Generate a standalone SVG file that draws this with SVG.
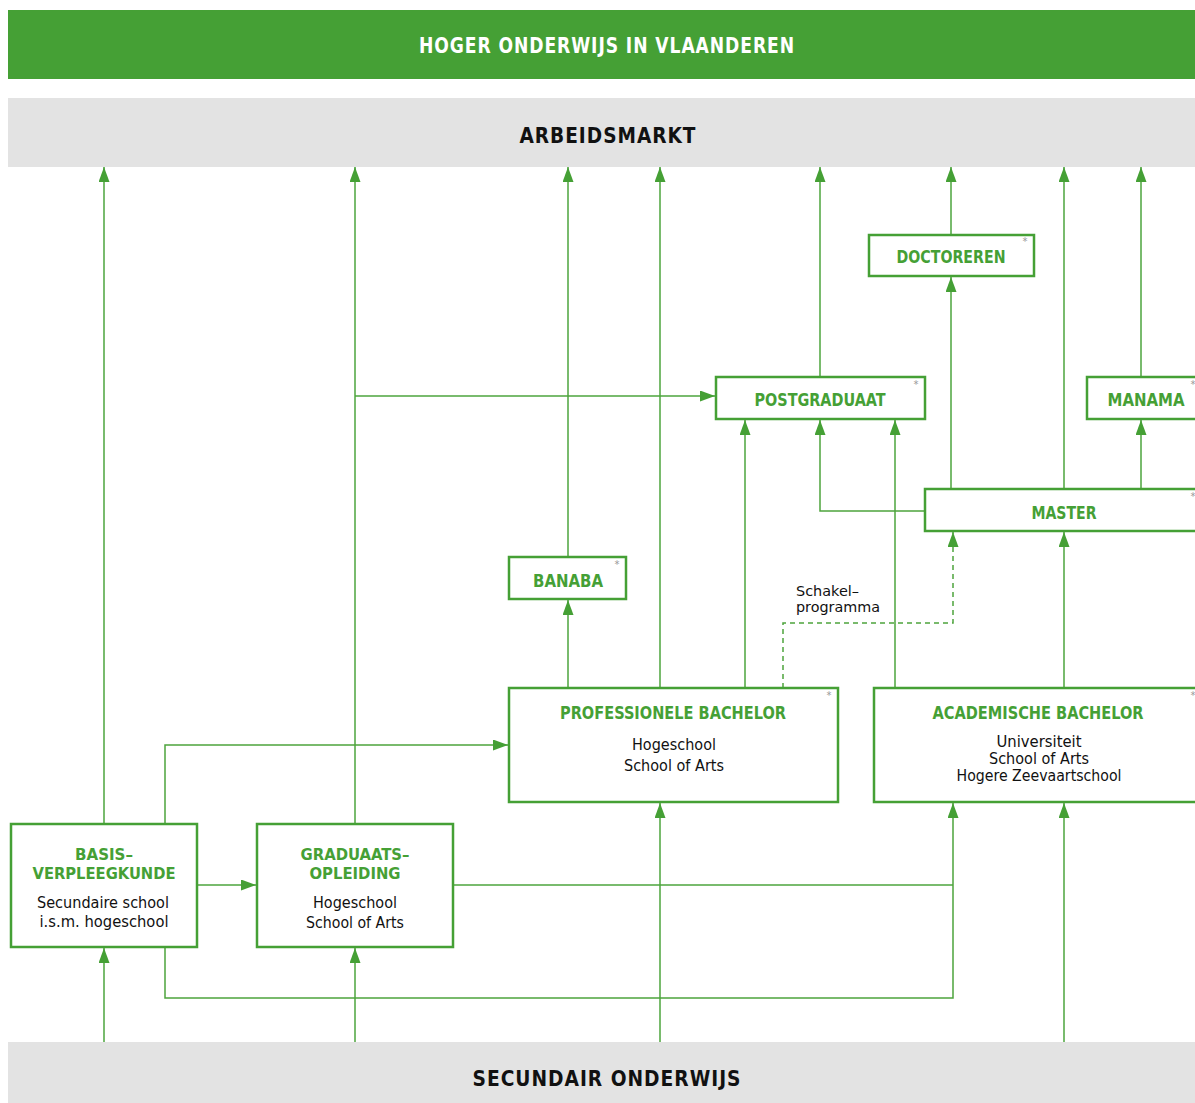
<svg xmlns="http://www.w3.org/2000/svg" width="1195" height="1103" viewBox="0 0 1195 1103">
<style>
.band{fill:#e3e3e3}
.bt{font-family:"DejaVu Sans Condensed","Liberation Sans",sans-serif;font-weight:bold;font-size:21px;fill:#111;text-anchor:middle;letter-spacing:1px}
.box{fill:#fff;stroke:#45a035;stroke-width:2.5}
.t{font-family:"DejaVu Sans Condensed","Liberation Sans",sans-serif;font-weight:bold;font-size:18px;fill:#45a035;text-anchor:middle}
.t2{font-size:16px}
.s{font-family:"DejaVu Sans Condensed","Liberation Sans",sans-serif;font-size:15px;fill:#111;text-anchor:middle}
.sk{font-family:"DejaVu Sans Condensed","Liberation Sans",sans-serif;font-size:14px;fill:#111}
.ast{font-family:"DejaVu Sans","Liberation Sans",sans-serif;font-size:10px;fill:#999;text-anchor:middle}
.c path{fill:none;stroke:#4da43d;stroke-width:1.5}
.c path.a{marker-end:url(#ah)}
.c path.d{stroke-dasharray:5 4}
</style>
<defs>
<marker id="ah" markerUnits="userSpaceOnUse" markerWidth="15" markerHeight="11" viewBox="0 0 15 11" refX="15" refY="5.5" orient="auto">
<path d="M0,0 L15,5.5 L0,11 z" fill="#45a035"/>
</marker>
</defs>
<rect width="1195" height="1103" fill="#fff"/>
<g id="header">
<rect x="8" y="10" width="1187" height="69" fill="#45a035"/>
<text x="607" y="53" class="bt" style="fill:#fff" textLength="376" lengthAdjust="spacingAndGlyphs">HOGER ONDERWIJS IN VLAANDEREN</text>
</g>
<g id="arbeidsmarkt">
<rect x="8" y="98" width="1187" height="69" class="band"/>
<text x="608" y="143" class="bt" textLength="177" lengthAdjust="spacingAndGlyphs">ARBEIDSMARKT</text>
</g>
<g id="secundair">
<rect x="8" y="1042" width="1187" height="61" class="band"/>
<text x="607" y="1086" class="bt" textLength="269" lengthAdjust="spacingAndGlyphs">SECUNDAIR ONDERWIJS</text>
</g>
<g class="c" id="connectors">
<path class="a" d="M104,824 V167"/>
<path class="a" d="M355,824 V167"/>
<path class="a" d="M568,557 V167"/>
<path class="a" d="M660,688 V167"/>
<path class="a" d="M820,377 V167"/>
<path class="a" d="M951,234 V167"/>
<path class="a" d="M1064,489 V167"/>
<path class="a" d="M1141,377 V167"/>
<path class="a" d="M355,396 H715"/>
<path class="a" d="M951,489 V277"/>
<path class="a" d="M745,688 V420"/>
<path class="a" d="M895,688 V420"/>
<path class="a" d="M925,511 H820 V420"/>
<path class="a" d="M1141,489 V420"/>
<path class="a" d="M568,688 V600"/>
<path class="a d" d="M783,688 V623 H953 V532"/>
<path class="a" d="M1064,688 V532"/>
<path class="a" d="M165,824 V745 H508"/>
<path class="a" d="M197,885 H256"/>
<path d="M453,885 H953"/>
<path class="a" d="M165,947 V998 H953 V803"/>
<path class="a" d="M104,1042 V948"/>
<path class="a" d="M355,1042 V948"/>
<path class="a" d="M660,1042 V803"/>
<path class="a" d="M1064,1042 V803"/>
</g>
<g id="schakelprogramma-label">
<text class="sk"><tspan x="796" y="596" textLength="63" lengthAdjust="spacingAndGlyphs">Schakel–</tspan><tspan x="796" y="612" textLength="84" lengthAdjust="spacingAndGlyphs">programma</tspan></text>
</g>
<g id="doctoreren">
<rect x="869" y="235" width="165" height="41" class="box"/>
<text x="951" y="263" class="t" textLength="109" lengthAdjust="spacingAndGlyphs">DOCTOREREN</text>
<text x="1025" y="245" class="ast">*</text>
</g>
<g id="postgraduaat">
<rect x="716" y="377" width="209" height="42" class="box"/>
<text x="820" y="406" class="t" textLength="131" lengthAdjust="spacingAndGlyphs">POSTGRADUAAT</text>
<text x="916" y="388" class="ast">*</text>
</g>
<g id="manama">
<rect x="1087" y="377" width="120" height="42" class="box"/>
<text x="1146" y="406" class="t" textLength="77" lengthAdjust="spacingAndGlyphs">MANAMA</text>
<text x="1193" y="388" class="ast">*</text>
</g>
<g id="master">
<rect x="925" y="489" width="282" height="42" class="box"/>
<text x="1064" y="519" class="t" textLength="65" lengthAdjust="spacingAndGlyphs">MASTER</text>
<text x="1193" y="500" class="ast">*</text>
</g>
<g id="banaba">
<rect x="509" y="557" width="117" height="42" class="box"/>
<text x="568" y="587" class="t" textLength="70" lengthAdjust="spacingAndGlyphs">BANABA</text>
<text x="617" y="568" class="ast">*</text>
</g>
<g id="professionele-bachelor">
<rect x="509" y="688" width="329" height="114" class="box"/>
<text x="673" y="719" class="t" textLength="226" lengthAdjust="spacingAndGlyphs">PROFESSIONELE BACHELOR</text>
<text x="674" y="750" class="s" textLength="84" lengthAdjust="spacingAndGlyphs">Hogeschool</text>
<text x="674" y="771" class="s" textLength="100" lengthAdjust="spacingAndGlyphs">School of Arts</text>
<text x="829" y="699" class="ast">*</text>
</g>
<g id="academische-bachelor">
<rect x="874" y="688" width="333" height="114" class="box"/>
<text x="1038" y="719" class="t" textLength="211" lengthAdjust="spacingAndGlyphs">ACADEMISCHE BACHELOR</text>
<text class="s"><tspan x="1039" y="747" textLength="85" lengthAdjust="spacingAndGlyphs">Universiteit</tspan><tspan x="1039" y="764" textLength="100" lengthAdjust="spacingAndGlyphs">School of Arts</tspan><tspan x="1039" y="781" textLength="165" lengthAdjust="spacingAndGlyphs">Hogere Zeevaartschool</tspan></text>
<text x="1193" y="699" class="ast">*</text>
</g>
<g id="basisverpleegkunde">
<rect x="11" y="824" width="186" height="123" class="box"/>
<text class="t t2"><tspan x="104" y="860" textLength="58" lengthAdjust="spacingAndGlyphs">BASIS–</tspan><tspan x="104" y="879" textLength="143" lengthAdjust="spacingAndGlyphs">VERPLEEGKUNDE</tspan></text>
<text x="103" y="908" class="s" textLength="132" lengthAdjust="spacingAndGlyphs">Secundaire school</text>
<text x="104" y="927" class="s" textLength="129" lengthAdjust="spacingAndGlyphs">i.s.m. hogeschool</text>
</g>
<g id="graduaatsopleiding">
<rect x="257" y="824" width="196" height="123" class="box"/>
<text class="t t2"><tspan x="355" y="860" textLength="109" lengthAdjust="spacingAndGlyphs">GRADUAATS–</tspan><tspan x="355" y="879" textLength="91" lengthAdjust="spacingAndGlyphs">OPLEIDING</tspan></text>
<text x="355" y="908" class="s" textLength="84" lengthAdjust="spacingAndGlyphs">Hogeschool</text>
<text x="355" y="928" class="s" textLength="98" lengthAdjust="spacingAndGlyphs">School of Arts</text>
</g>
</svg>
